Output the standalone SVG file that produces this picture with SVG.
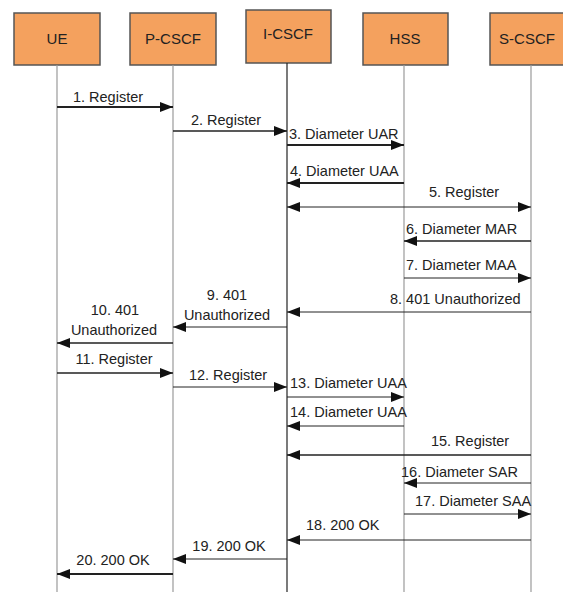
<svg xmlns="http://www.w3.org/2000/svg" width="563" height="595" viewBox="0 0 563 595">
<style>
.box{fill:#F4A15E;stroke:#555;stroke-width:1.5}
.bt{font-family:"Liberation Sans",Arial,sans-serif;font-size:15px;fill:#222;text-anchor:middle}
.life{stroke:#9a9a9a;stroke-width:1.2;fill:none}
.msg{stroke:#222;fill:none}
.lbl{font-family:"Liberation Sans",Arial,sans-serif;font-size:14.5px;fill:#222}
.m{text-anchor:middle}
</style>
<defs>
<marker id="ah" markerUnits="userSpaceOnUse" markerWidth="14" markerHeight="10" refX="13" refY="5" orient="auto-start-reverse"><path d="M0,0 L13,5 L0,10 z" fill="#111"/></marker>
</defs>
<rect width="563" height="595" fill="#fff"/>
<g id="UE"><rect class="box" x="14" y="13" width="86" height="52"/><text class="bt" x="57" y="44">UE</text><line class="life" x1="57" y1="65" x2="57" y2="592"/></g>
<g id="P-CSCF"><rect class="box" x="130" y="13" width="86" height="52"/><text class="bt" x="173" y="44">P-CSCF</text><line class="life" x1="173" y1="65" x2="173" y2="592"/></g>
<g id="I-CSCF"><rect class="box" x="246" y="10" width="85" height="53"/><text class="bt" x="288" y="39">I-CSCF</text><line class="life" x1="287" y1="63" x2="287" y2="592" style="stroke:#222"/></g>
<g id="HSS"><rect class="box" x="363" y="13" width="85" height="52"/><text class="bt" x="405" y="44">HSS</text><line class="life" x1="404" y1="65" x2="404" y2="592"/></g>
<g id="S-CSCF"><rect class="box" x="490" y="13" width="80" height="52"/><text class="bt" x="527" y="44">S-CSCF</text><line class="life" x1="531" y1="65" x2="531" y2="592"/></g>
<g id="connectors">
<line class="msg" x1="57" y1="107" x2="173" y2="107" stroke-width="2" marker-end="url(#ah)"/>
<line class="msg" x1="173" y1="131" x2="287" y2="131" stroke-width="1.4" marker-end="url(#ah)"/>
<line class="msg" x1="287" y1="145" x2="404" y2="145" stroke-width="2" marker-end="url(#ah)"/>
<line class="msg" x1="404" y1="183" x2="287" y2="183" stroke-width="2" marker-end="url(#ah)"/>
<line class="msg" x1="287" y1="207" x2="531" y2="207" stroke-width="1" marker-start="url(#ah)" marker-end="url(#ah)"/>
<line class="msg" x1="531" y1="241" x2="404" y2="241" stroke-width="1.4" marker-end="url(#ah)"/>
<line class="msg" x1="404" y1="278" x2="531" y2="278" stroke-width="1" marker-end="url(#ah)"/>
<line class="msg" x1="531" y1="312" x2="287" y2="312" stroke-width="1" marker-end="url(#ah)"/>
<line class="msg" x1="287" y1="327" x2="173" y2="327" stroke-width="1" marker-end="url(#ah)"/>
<line class="msg" x1="173" y1="343" x2="57" y2="343" stroke-width="1.6" marker-end="url(#ah)"/>
<line class="msg" x1="57" y1="373" x2="173" y2="373" stroke-width="1.4" marker-end="url(#ah)"/>
<line class="msg" x1="173" y1="387" x2="287" y2="387" stroke-width="1" marker-end="url(#ah)"/>
<line class="msg" x1="287" y1="397" x2="404" y2="397" stroke-width="1" marker-end="url(#ah)"/>
<line class="msg" x1="404" y1="426" x2="287" y2="426" stroke-width="1" marker-end="url(#ah)"/>
<line class="msg" x1="531" y1="455" x2="287" y2="455" stroke-width="1.4" marker-end="url(#ah)"/>
<line class="msg" x1="531" y1="483" x2="404" y2="483" stroke-width="1" marker-end="url(#ah)"/>
<line class="msg" x1="404" y1="514" x2="531" y2="514" stroke-width="1" marker-end="url(#ah)"/>
<line class="msg" x1="531" y1="540" x2="287" y2="540" stroke-width="1" marker-end="url(#ah)"/>
<line class="msg" x1="287" y1="559" x2="173" y2="559" stroke-width="1" stroke="#666" marker-end="url(#ah)"/>
<line class="msg" x1="173" y1="574" x2="57" y2="574" stroke-width="2" marker-end="url(#ah)"/>
</g>
<g id="labels">
<text class="lbl m" x="108" y="102">1. Register</text>
<text class="lbl m" x="226" y="125">2. Register</text>
<text class="lbl" x="289" y="139">3. Diameter UAR</text>
<text class="lbl" x="290" y="176">4. Diameter UAA</text>
<text class="lbl m" x="464" y="197">5. Register</text>
<text class="lbl" x="406" y="234">6. Diameter MAR</text>
<text class="lbl" x="406" y="270">7. Diameter MAA</text>
<text class="lbl" x="390" y="304">8. 401 Unauthorized</text>
<text class="lbl m" x="227" y="300">9. 401</text>
<text class="lbl m" x="227" y="320">Unauthorized</text>
<text class="lbl m" x="115" y="315">10. 401</text>
<text class="lbl m" x="114" y="335">Unauthorized</text>
<text class="lbl m" x="114" y="364">11. Register</text>
<text class="lbl m" x="228" y="380">12. Register</text>
<text class="lbl" x="290" y="388">13. Diameter UAA</text>
<text class="lbl" x="290" y="417">14. Diameter UAA</text>
<text class="lbl m" x="470" y="446">15. Register</text>
<text class="lbl" x="401" y="477">16. Diameter SAR</text>
<text class="lbl" x="415" y="506">17. Diameter SAA</text>
<text class="lbl" x="306" y="530">18. 200 OK</text>
<text class="lbl m" x="229" y="551">19. 200 OK</text>
<text class="lbl m" x="113" y="565">20. 200 OK</text>
</g>
</svg>
